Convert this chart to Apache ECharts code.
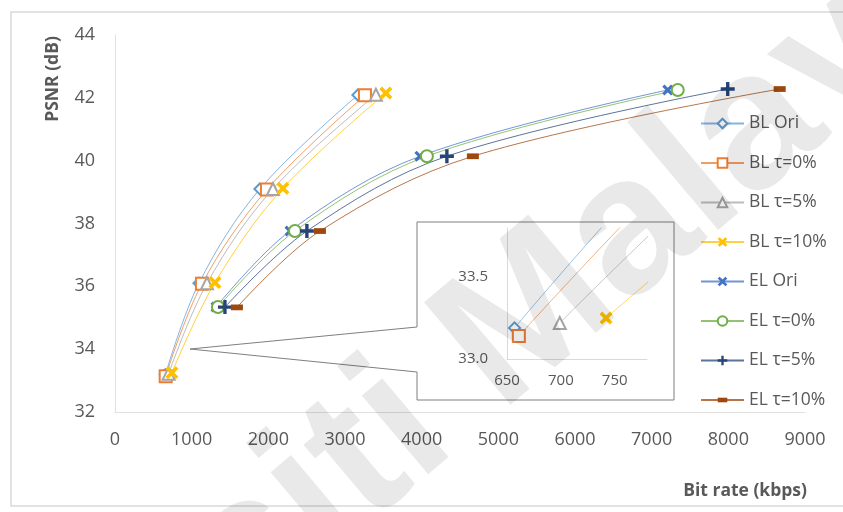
<!DOCTYPE html>
<html>
<head>
<meta charset="utf-8">
<script src="https://cdn.jsdelivr.net/npm/echarts@6/dist/echarts.min.js"></script>
<style>
  html, body { margin: 0; padding: 0; background: #ffffff; }
  #chart { width: 843px; height: 512px; }
</style>
</head>
<body>
<div id="chart"></div>
<script>
// Rate-distortion points: bit rate (kbps) and PSNR (dB) per coding configuration
const seriesNames = ['BL Ori', 'BL τ=0%', 'BL τ=5%', 'BL τ=10%', 'EL Ori', 'EL τ=0%', 'EL τ=5%', 'EL τ=10%'];

const blOriRate  = [657, 1095, 1890, 3168];
const blOriPsnr  = [33.19, 36.10, 39.10, 42.09];
const bl0Rate    = [661, 1134, 1982, 3260];
const bl0Psnr    = [33.14, 36.08, 39.08, 42.08];
const bl5Rate    = [699, 1200, 2060, 3403];
const bl5Psnr    = [33.22, 36.10, 39.10, 42.10];
const bl10Rate   = [742, 1304, 2190, 3533];
const bl10Psnr   = [33.25, 36.12, 39.12, 42.15];
const elOriRate  = [1317, 2282, 3977, 7210];
const elOriPsnr  = [35.34, 37.76, 40.14, 42.25];
const el0Rate    = [1343, 2347, 4068, 7340];
const el0Psnr    = [35.34, 37.76, 40.14, 42.25];
const el5Rate    = [1434, 2503, 4329, 7992];
const el5Psnr    = [35.34, 37.76, 40.14, 42.28];
const el10Rate   = [1590, 2673, 4668, 8670];
const el10Psnr   = [35.33, 37.76, 40.14, 42.28];

// Axis ranges
const xMain = { min: 0, max: 9000, step: 1000 };
const yMain = { min: 32, max: 44, step: 2 };
const xZoom = { min: 650, max: 780, step: 50 };
const yZoom = { min: 33.0, max: 33.8, step: 0.5 };

const rates = [blOriRate, bl0Rate, bl5Rate, bl10Rate, elOriRate, el0Rate, el5Rate, el10Rate];
const psnrs = [blOriPsnr, bl0Psnr, bl5Psnr, bl10Psnr, elOriPsnr, el0Psnr, el5Psnr, el10Psnr];

const colors = ['#5B9BD5', '#ED7D31', '#A5A5A5', '#FFC000', '#4472C4', '#70AD47', '#264478', '#9E480E'];

const crossPath = 'path://M2,0 L5,3 L8,0 L10,2 L7,5 L10,8 L8,10 L5,7 L2,10 L0,8 L3,5 L0,2 Z';
const plusPath  = 'path://M3.8,0 H6.2 V3.8 H10 V6.2 H6.2 V10 H3.8 V6.2 H0 V3.8 H3.8 Z';
// short bar centred in a square box so it keeps its shape in the legend too
const dashPath  = 'path://M0,0 M10,10 M0,2.6 H10 V7.4 H0 Z';

const markers = [
  { symbol: 'emptyDiamond', size: 11, border: 2.2 },
  { symbol: 'emptyRect', size: 12, border: 2.6 },
  { symbol: 'emptyTriangle', size: 12, border: 2.4 },
  { symbol: crossPath, size: 13, border: 0 },
  { symbol: crossPath, size: 11, border: 0 },
  { symbol: 'emptyCircle', size: 12, border: 3 },
  { symbol: plusPath, size: 14, border: 0 },
  { symbol: dashPath, size: 12, border: 0 }
];

const textGray = '#595959';
const fontFam = '"Open Sans", "Noto Sans", sans-serif';

function pairs(xs, ys) { return xs.map((x, i) => [x, ys[i]]); }

function makeSeries(i, xi, yi, z, fade) {
  const m = markers[i];
  const isEmpty = m.symbol.indexOf('empty') === 0;
  return {
    name: seriesNames[i],
    type: 'line',
    xAxisIndex: xi,
    yAxisIndex: yi,
    data: pairs(rates[i], psnrs[i]),
    smooth: 0.35,
    symbol: m.symbol,
    symbolSize: m.size,
    showAllSymbol: true,
    clip: true,
    z: z,
    lineStyle: { color: colors[i], width: 1, opacity: fade },
    itemStyle: isEmpty
      ? { color: colors[i], borderColor: colors[i], borderWidth: m.border }
      : { color: colors[i], borderWidth: 0 },
    emphasis: { disabled: true },
    animation: false
  };
}

const series = [];
for (let i = 0; i < 8; i++) series.push(makeSeries(i, 0, 0, 2, 0.75));
for (let i = 0; i < 4; i++) series.push(makeSeries(i, 1, 1, 6, 0.6));

const chart = echarts.init(document.getElementById('chart'), null, { renderer: 'canvas' });

chart.setOption({
  backgroundColor: '#ffffff',
  animation: false,
  textStyle: { fontFamily: fontFam },
  grid: [
    { left: 115, right: 38, top: 35, height: 377 },
    { left: 507, right: 196, top: 228, height: 131, z: 5 }
  ],
  xAxis: [
    {
      type: 'value', gridIndex: 0, min: xMain.min, max: xMain.max, interval: xMain.step,
      axisLine: { show: true, lineStyle: { color: '#e0e0e0', width: 1 } },
      axisTick: { show: false }, splitLine: { show: false },
      axisLabel: { color: textGray, fontSize: 18, margin: 19, fontFamily: fontFam,
                   formatter: v => String(v) }
    },
    {
      type: 'value', gridIndex: 1, min: xZoom.min, max: xZoom.max, interval: xZoom.step, z: 5,
      axisLine: { show: true, onZero: false, lineStyle: { color: '#d9d9d9', width: 1 } },
      axisTick: { show: false }, splitLine: { show: false },
      axisLabel: { color: textGray, fontSize: 15, margin: 14, showMaxLabel: false, fontFamily: fontFam,
                   formatter: v => String(v) }
    }
  ],
  yAxis: [
    {
      type: 'value', gridIndex: 0, min: yMain.min, max: yMain.max, interval: yMain.step,
      axisLine: { show: true, lineStyle: { color: '#e0e0e0', width: 1 } },
      axisTick: { show: false }, splitLine: { show: false },
      axisLabel: { color: textGray, fontSize: 18, margin: 20, fontFamily: fontFam }
    },
    {
      type: 'value', gridIndex: 1, min: yZoom.min, max: yZoom.max, interval: yZoom.step, z: 5,
      axisLine: { show: true, onZero: false, lineStyle: { color: '#d9d9d9', width: 1 } },
      axisTick: { show: false }, splitLine: { show: false },
      axisLabel: { color: textGray, fontSize: 15, margin: 19, showMaxLabel: false,
                   formatter: v => v.toFixed(1), fontFamily: fontFam }
    }
  ],
  legend: {
    data: seriesNames,
    orient: 'vertical',
    left: 700,
    top: 114.5,
    padding: 0,
    itemWidth: 43,
    itemHeight: 12,
    itemGap: 21.5,
    selectedMode: false,
    textStyle: { color: textGray, fontSize: 17.5, fontFamily: fontFam, lineHeight: 16 }
  },
  graphic: [
    {
      type: 'rect', silent: true, z: 0,
      shape: { x: 11, y: 12, width: 840, height: 494 },
      style: { fill: 'none', stroke: '#d9d9d9', lineWidth: 1.5 }
    },
    {
      // magnified-view callout box
      type: 'polygon', silent: true, z: 1,
      shape: { points: [[417, 327], [417, 222], [674, 222], [674, 400], [417, 400], [417, 372], [190, 349]] },
      style: { fill: '#ffffff', stroke: '#7f7f7f', lineWidth: 1 }
    },
    {
      type: 'text', silent: true, z: 10,
      x: 53, y: 79, rotation: Math.PI / 2,
      style: { text: 'PSNR (dB)', fill: textGray, font: 'bold 17.5px ' + fontFam,
               align: 'center', verticalAlign: 'middle' }
    },
    {
      type: 'text', silent: true, z: 10,
      x: 807, y: 491,
      style: { text: 'Bit rate (kbps)', fill: textGray, font: 'bold 17.5px ' + fontFam,
               align: 'right', verticalAlign: 'middle' }
    },
    {
      type: 'text', silent: true, z: 100,
      x: -318, y: 905, rotation: 0.70,
      style: { text: 'Universiti Malaya', fill: 'rgba(0,0,0,0.085)',
               font: 'bold 195px "Liberation Sans", Arial, sans-serif',
               align: 'left', verticalAlign: 'alphabetic' }
    }
  ],
  series: series
});
</script>
</body>
</html>
